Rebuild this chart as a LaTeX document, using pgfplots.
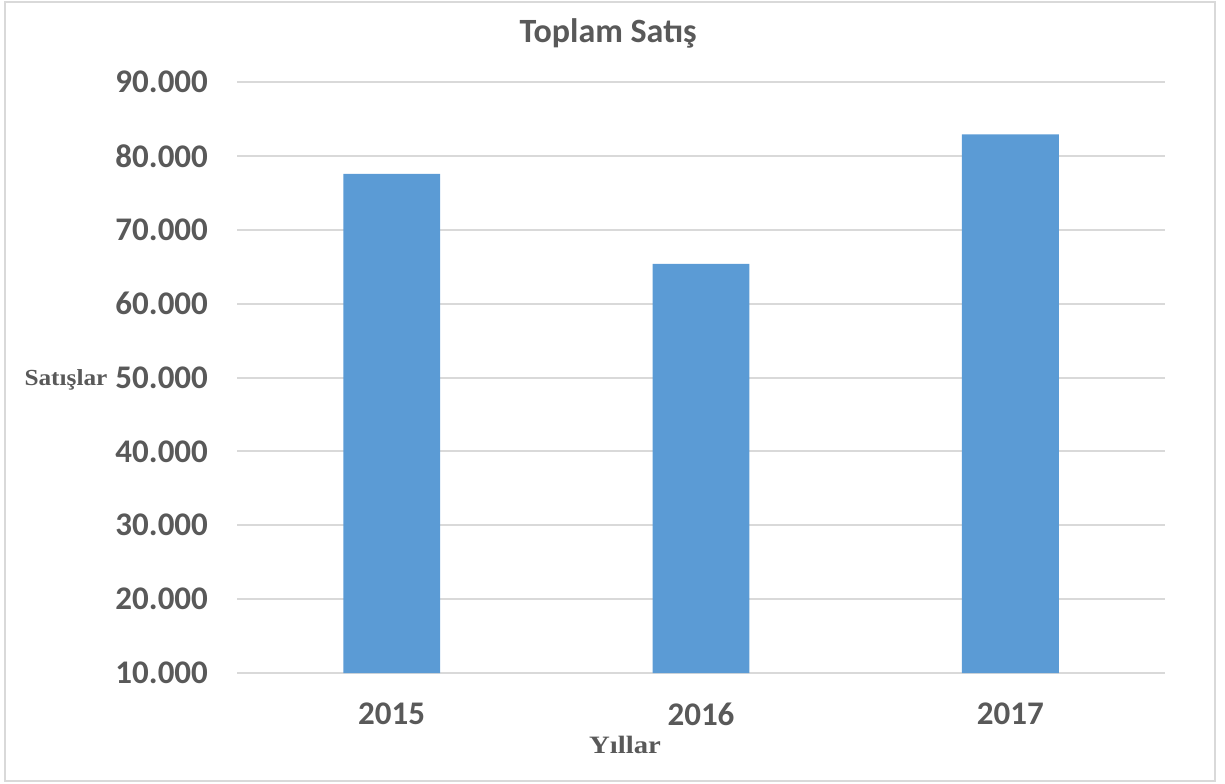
\documentclass[border=0pt]{standalone}
\usepackage{pgfplots}
\pgfplotsset{compat=1.18}
\usepackage{fontspec}
\setmainfont{Carlito}
\newfontfamily\serifb{Liberation Serif}
\definecolor{txt}{HTML}{595959}
\definecolor{grd}{HTML}{D9D9D9}
\definecolor{bar}{HTML}{5B9BD5}
\begin{document}
\begin{tikzpicture}
\useasboundingbox (-118.5pt,-55pt) rectangle (494pt,336.5pt);
\draw[grd, line width=1pt] (-116pt,-54pt) rectangle (489pt,335.5pt);
\begin{axis}[
  at={(0pt,0pt)}, anchor=south west,
  scale only axis,
  width=464pt, height=295.5pt,
  ymin=10000, ymax=90000,
  ytick={10000,20000,...,90000},
  xmin=-0.5, xmax=2.5,
  xtick={0,1,2},
  xticklabels={2015,2016,2017},
  axis line style={draw=none},
  ymajorgrids, grid style={grd, line width=1pt},
  major tick length=0pt,
  tick style={draw=none},
  scaled y ticks=false,
  yticklabel={\pgfmathprintnumber[fixed,precision=0,1000 sep={.},assume math mode=true]{\tick}},
  yticklabel style={font=\fontsize{16.5}{18}\selectfont\bfseries, color=txt, xshift=-11pt},
  xticklabel style={font=\fontsize{16.5}{18}\selectfont\bfseries, color=txt, yshift=-11.5pt},
  title={\textbf{Toplam Satış}},
  title style={font=\fontsize{17}{19}\selectfont, color=txt, at={(0.4,1)}, anchor=center, yshift=18.5pt},
  clip=false,
]
\draw[grd, line width=1pt] (axis cs:-0.5,10000) -- (axis cs:2.5,10000);
\addplot[ybar, bar width=0.313, fill=bar, draw=none] coordinates {(0,77550) (1,65380) (2,82900)};
\end{axis}
\node[color=txt, font=\serifb\bfseries\fontsize{11.5}{13}\selectfont, xscale=1.1] at (-85.5pt,146.5pt) {Satışlar};
\node[color=txt, font=\serifb\bfseries\fontsize{12.5}{14}\selectfont, xscale=1.15] at (194pt,-36pt) {Yıllar};
\end{tikzpicture}
\end{document}
